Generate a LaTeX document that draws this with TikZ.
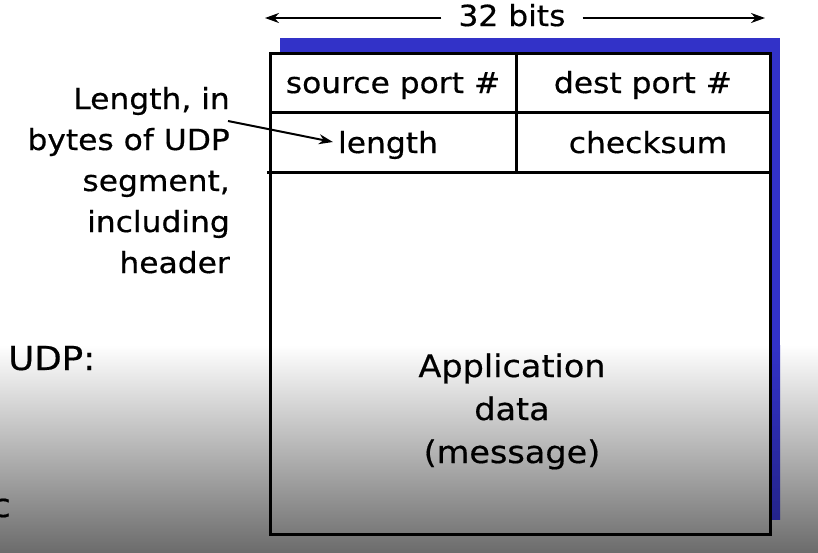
\documentclass[tikz,border=0pt]{standalone}
\usepackage{fontspec}
\setmainfont{DejaVu Sans}[FakeStretch=1.08, FakeBold=0.5]
\usetikzlibrary{arrows.meta}
\definecolor{shadowblue}{RGB}{50,50,200}
\definecolor{shadowbluedark}{RGB}{36,36,140}
\definecolor{bggray}{RGB}{108,108,108}
\begin{document}
\begin{tikzpicture}[x=1pt,y=-1pt,
  txt/.style={font=\fontsize{29}{41}\selectfont, inner sep=0pt},
  big/.style={font=\fontsize{33}{44}\selectfont, inner sep=0pt},
  frame/.style={line width=3pt, line cap=rect},
  arr/.style={line width=2pt, -{Stealth[length=14pt,width=10pt]}},
  bgshade/.style={top color=white, bottom color=bggray}]
\useasboundingbox (0,0) rectangle (818,552);
\fill[white] (0,0) rectangle (818,552);
\shade[bgshade] (0,345) rectangle (818,552);
% blue shadow
\fill[shadowblue] (280,38) rectangle (780,346);
\shade[top color=shadowblue, bottom color=shadowbluedark] (280,345) rectangle (780,519);
% box interior (same background as the page)
\fill[white] (270,53) rectangle (770,534);
\begin{scope}
  \clip (270,53) rectangle (770,534);
  \shade[bgshade] (0,345) rectangle (818,552);
\end{scope}
% frame
\draw[frame] (270,53) rectangle (770,534);
\draw[frame] (270,112.5) -- (770,112.5);
\draw[frame] (268,172) -- (768,172);
\draw[frame] (516,53) -- (516,172);
% header texts
\node[txt, anchor=base] (src) at (393,93) {source port \#};
\node[txt, anchor=base] (dst) at (643,93) {dest port \#};
\node[txt, anchor=base] (len) at (388,153) {length};
\node[txt, anchor=base] (chk) at (648,153) {checksum};
\node[txt, anchor=base, align=center, font=\fontsize{31}{43}\selectfont] (app) at (512,463) {Application\\data\\(message)};
% width label
\node[txt, anchor=base] (bits) at (512,26) {32 bits};
\coordinate (la) at (265,18);
\coordinate (ra) at (765,18);
\draw[arr] ([xshift=-17pt]bits.west |- la) -- (la);
\draw[arr] ([xshift=17pt]bits.east |- ra) -- (ra);
% side note
\node[txt, anchor=base east, align=right] (note) at (230,273)
  {Length, in\\bytes of UDP\\segment,\\including\\header};
\coordinate (ns) at (228,121);
\draw[arr] (ns) -- ([xshift=-5pt,yshift=3pt]len.west);
% slide text
\node[big, anchor=base west] (udp) at (8,370) {UDP:};
\node[big, anchor=base east] (cc) at (11,517) {c};
\end{tikzpicture}
\end{document}
